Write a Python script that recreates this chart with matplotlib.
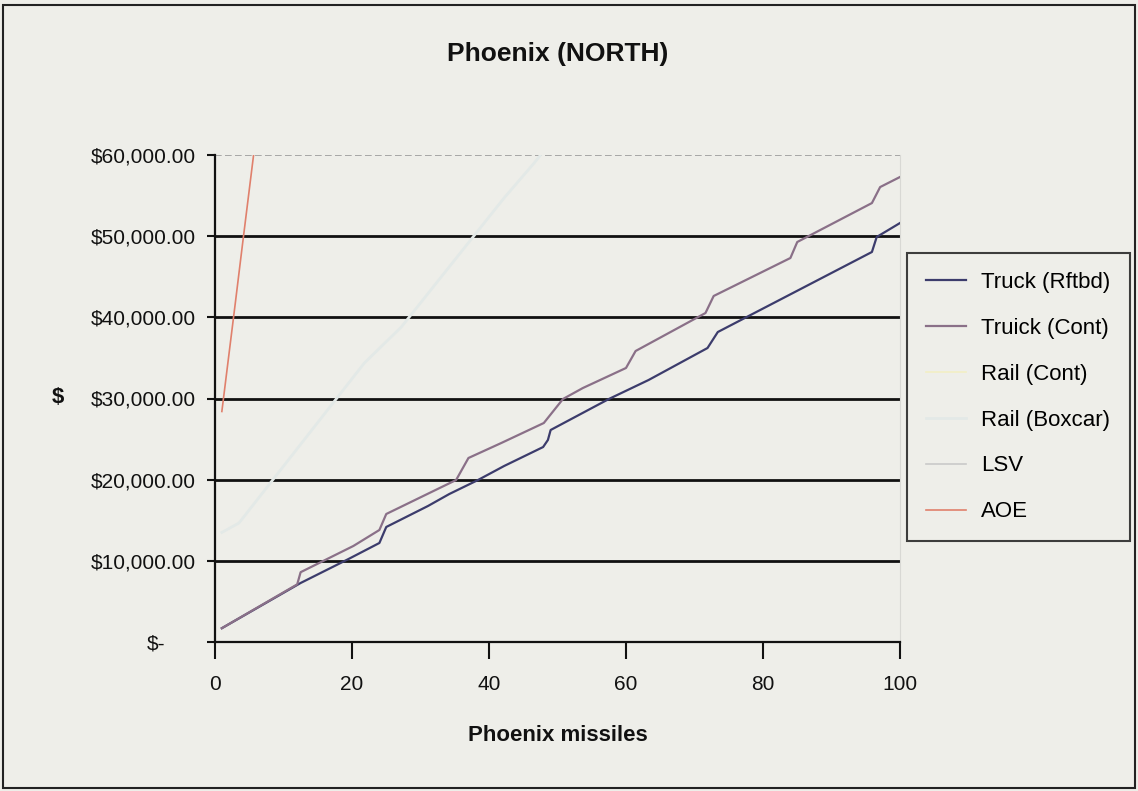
import matplotlib
matplotlib.use("Agg")
import matplotlib.pyplot as plt
from matplotlib.patches import Rectangle
from matplotlib.transforms import ScaledTranslation

# ---- data (breakpoints of each cost curve) ----
truck_rftbd_x = [1, 12.5, 19.5, 24, 25, 31.1, 34.2, 38.4, 42.2, 47.9, 48.6, 49,
                 57.5, 63.3, 71.9, 73.4, 95.9, 96.6, 100]
truck_rftbd_y = [1700, 7270, 10230, 12200, 14170, 16760, 18230, 19960, 21680, 24020,
                 24890, 26120, 29940, 32280, 36220, 38190, 48050, 49900, 51620]

truck_cont_x = [1, 12, 12.5, 20.2, 24, 25, 35.2, 37, 41.8, 48, 50.8, 53.7, 60, 61.4,
                71.6, 72.8, 84, 85, 95.9, 97.1, 100]
truck_cont_y = [1700, 7100, 8600, 11830, 13800, 15770, 19960, 22670, 24520, 26980,
                29940, 31290, 33760, 35850, 40530, 42630, 47310, 49280, 54080, 56050, 57290]

rail_cont_x = [1, 2, 3]
rail_cont_y = [64000, 70000, 76000]

rail_boxcar_x = [1, 3.5, 21.8, 27.2, 42.2, 46.6, 48]
rail_boxcar_y = [13500, 14660, 34370, 38810, 54700, 59020, 60500]

lsv_x = [1, 2, 3]
lsv_y = [66000, 72000, 78000]

aoe_x = [1, 2, 3, 4, 5, 6]
aoe_y = [28400, 35200, 42000, 48900, 55700, 62500]

y_ticks = [0, 10000, 20000, 30000, 40000, 50000, 60000]
x_ticks = [0, 20, 40, 60, 80, 100]

BG = '#eeeee9'
plt.rcParams['font.family'] = ['Liberation Sans', 'DejaVu Sans']

fig = plt.figure(figsize=(11.38, 7.91), dpi=100)
fig.patch.set_facecolor(BG)
ax = fig.add_axes([215 / 1138, 1 - 642 / 791, 685 / 1138, 487 / 791])
ax.set_facecolor(BG)

# outer chart frame
fig.patches.append(Rectangle((3 / 1138, 3 / 791), 1132 / 1138, 783 / 791,
                             transform=fig.transFigure, fill=False,
                             edgecolor='#222222', linewidth=1.5))

# horizontal gridlines
for v in y_ticks[1:-1]:
    ax.axhline(v, color='#111111', linewidth=2, zorder=1)
ax.axhline(y_ticks[-1], color='#9a9a9a', linewidth=1.2, linestyle=(0, (4, 2)), zorder=1)

series = [
    (truck_rftbd_x, truck_rftbd_y, 'Truck (Rftbd)', '#3c3c6c', 1.6),
    (truck_cont_x, truck_cont_y, 'Truick (Cont)', '#8a7088', 1.6),
    (rail_cont_x, rail_cont_y, 'Rail (Cont)', '#f2efc4', 1.2),
    (rail_boxcar_x, rail_boxcar_y, 'Rail (Boxcar)', '#e3e9e7', 2.0),
    (lsv_x, lsv_y, 'LSV', '#c9c9c9', 1.2),
    (aoe_x, aoe_y, 'AOE', '#e0806c', 1.2),
]
for xs, ys, name, col, lw in series:
    ax.plot(xs, ys, color=col, linewidth=lw, label=name, zorder=3)

ax.set_xlim(0, 100)
ax.set_ylim(0, 60000)
ax.set_xticks(x_ticks)
ax.set_yticks(y_ticks)
ax.set_xticklabels([str(t) for t in x_ticks])
ax.set_yticklabels(['$-'] + [f'${v:,.2f}' for v in y_ticks[1:]])

ax.spines['top'].set_visible(False)
ax.spines['right'].set_color('#d8d8d4')
for s in ['left', 'bottom']:
    ax.spines[s].set_linewidth(1.6)
    ax.spines[s].set_color('#111111')

ax.tick_params(axis='y', direction='out', length=6, width=1.5, pad=8,
               labelsize=15, colors='#111111')
ax.tick_params(axis='x', direction='out', length=12, width=1.5, pad=12,
               labelsize=15, colors='#111111')

# accounting style: dash sits at the decimal position
zero_lbl = ax.get_yticklabels()[0]
zero_lbl.set_transform(zero_lbl.get_transform() +
                       ScaledTranslation(-22 / 72, 0, fig.dpi_scale_trans))

ax.set_title('Phoenix (NORTH)', fontsize=19, fontweight='bold', pad=68, color='#111111')
ax.set_xlabel('Phoenix missiles', fontsize=16, fontweight='bold', labelpad=22,
              color='#111111')
ax.set_ylabel('$', fontsize=16, fontweight='bold', rotation=0, color='#111111')
ax.yaxis.set_label_coords(-0.23, 0.48)

leg = ax.legend(loc='upper left', bbox_to_anchor=((907 - 215) / 685, 1 - (253 - 155) / 487),
                frameon=True, fancybox=False, fontsize=16, handlelength=1.8,
                labelspacing=1.12, borderpad=0.85, handletextpad=0.7,
                borderaxespad=0)
leg.get_frame().set_edgecolor('#111111')
leg.get_frame().set_linewidth(1.5)
leg.get_frame().set_facecolor(BG)

fig.savefig('out.png', dpi=100, facecolor=BG)
